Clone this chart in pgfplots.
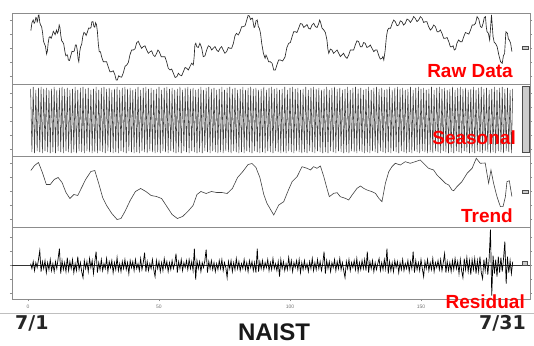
\documentclass[border=0pt]{standalone}
\usepackage{pgfplots}
\pgfplotsset{compat=1.18}
\usepackage{pgfplotstable}
\usepackage{fontspec}
\setmainfont{Liberation Sans}
\newfontfamily\dejavu{DejaVu Sans}
\definecolor{framegray}{RGB}{140,140,140}
\definecolor{labred}{RGB}{255,0,0}
\definecolor{linegray}{RGB}{40,40,40}

\pgfplotstableread[row sep=\\]{y\\
2\\-3\\4\\-5\\3\\-2\\6\\15\\-6\\4\\-3\\5\\-7\\3\\-4\\6\\-5\\2\\-6\\4\\
-3\\7\\17\\-8\\5\\-4\\3\\-6\\8\\-5\\4\\-3\\6\\-7\\2\\-5\\9\\-4\\3\\-6\\
-12\\5\\-3\\4\\-6\\7\\-2\\5\\-8\\4\\14\\-7\\3\\-4\\6\\-5\\2\\-3\\7\\-6\\
4\\-2\\5\\-7\\3\\-4\\8\\-5\\2\\-6\\4\\-3\\6\\-4\\3\\-8\\5\\-2\\4\\-5\\
6\\-3\\2\\-5\\7\\-4\\3\\13\\-6\\4\\-5\\2\\-3\\6\\-4\\-11\\5\\-3\\4\\-6\\
3\\-5\\7\\-2\\4\\-6\\3\\-4\\5\\-3\\2\\12\\-7\\4\\-3\\6\\-5\\3\\-2\\5\\
-4\\6\\-3\\4\\-5\\17\\-14\\5\\-3\\4\\-6\\3\\-2\\5\\16\\-7\\4\\-3\\5\\-4\\
3\\-6\\2\\-4\\5\\-3\\6\\-5\\3\\-2\\-12\\4\\-3\\5\\-6\\3\\-4\\7\\-3\\4\\
-5\\2\\-3\\6\\-4\\3\\-6\\5\\-2\\4\\-5\\3\\-7\\17\\-6\\4\\-3\\5\\-4\\3\\
-2\\6\\-5\\3\\-4\\7\\-3\\2\\-5\\4\\-11\\6\\-3\\4\\-5\\2\\-4\\8\\-3\\5\\
-6\\3\\-2\\5\\-4\\6\\-7\\3\\-4\\5\\-3\\2\\-6\\4\\-3\\7\\-5\\3\\-4\\6\\
-3\\4\\-5\\2\\14\\-8\\5\\-3\\4\\-6\\3\\-2\\6\\-5\\4\\-3\\7\\-4\\3\\-5\\
-12\\4\\-3\\6\\-5\\3\\-2\\5\\-4\\7\\-6\\3\\-4\\5\\-3\\6\\-5\\14\\-7\\4\\
-3\\5\\-6\\3\\-4\\2\\7\\-5\\3\\-4\\6\\-3\\17\\-8\\4\\-5\\3\\-6\\5\\-2\\
4\\-7\\3\\-4\\6\\-5\\2\\-3\\5\\-6\\4\\-3\\14\\-7\\5\\-4\\3\\-5\\6\\-3\\
-11\\4\\-3\\6\\-5\\3\\-4\\7\\-6\\3\\-2\\5\\-4\\6\\-5\\3\\12\\-7\\4\\-5\\
3\\-6\\5\\-4\\7\\-3\\4\\-8\\6\\-5\\-12\\7\\-4\\8\\-6\\5\\-9\\6\\-4\\7\\
-8\\5\\-6\\9\\-7\\-13\\6\\-5\\8\\-9\\7\\36\\-30\\10\\-8\\6\\-11\\9\\-7\\8\\
-6\\7\\24\\-18\\9\\-7\\5\\-8\\4\\
}\resid

\pgfplotstableread[row sep=\\]{y\\
67\\4\\69\\3\\66\\5\\68\\4\\69\\3\\67\\5\\68\\4\\66\\3\\
67\\4\\69\\3\\66\\5\\68\\4\\69\\3\\67\\5\\68\\4\\66\\3\\
67\\4\\69\\3\\66\\5\\68\\4\\69\\3\\67\\5\\68\\4\\66\\3\\
67\\4\\69\\3\\66\\5\\68\\4\\69\\3\\67\\5\\68\\4\\66\\3\\
67\\4\\69\\3\\66\\5\\68\\4\\69\\3\\67\\5\\68\\4\\66\\3\\
67\\4\\69\\3\\66\\5\\68\\4\\69\\3\\67\\5\\68\\4\\66\\3\\
67\\4\\69\\3\\66\\5\\68\\4\\69\\3\\67\\5\\68\\4\\66\\3\\
67\\4\\69\\3\\66\\5\\68\\4\\69\\3\\67\\5\\68\\4\\66\\3\\
67\\4\\69\\3\\66\\5\\68\\4\\69\\3\\67\\5\\68\\4\\66\\3\\
67\\4\\69\\3\\66\\5\\68\\4\\69\\3\\67\\5\\68\\4\\66\\3\\
67\\4\\69\\3\\66\\5\\68\\4\\69\\3\\67\\5\\68\\4\\66\\3\\
67\\4\\69\\3\\66\\5\\68\\4\\69\\3\\67\\5\\68\\4\\66\\3\\
67\\4\\69\\3\\66\\5\\68\\4\\69\\3\\67\\5\\68\\4\\66\\3\\
67\\4\\69\\3\\66\\5\\68\\4\\69\\3\\67\\5\\68\\4\\66\\3\\
67\\4\\69\\3\\66\\5\\68\\4\\69\\3\\67\\5\\68\\4\\66\\3\\
67\\4\\69\\3\\66\\5\\68\\4\\69\\3\\67\\5\\68\\4\\66\\3\\
67\\4\\69\\3\\66\\5\\68\\4\\69\\3\\67\\5\\68\\4\\66\\3\\
67\\4\\69\\3\\66\\5\\68\\4\\69\\3\\67\\5\\68\\4\\66\\3\\
67\\4\\69\\3\\66\\5\\68\\4\\69\\3\\67\\5\\68\\4\\66\\3\\
67\\4\\69\\3\\66\\5\\68\\4\\69\\3\\67\\5\\68\\4\\66\\3\\
67\\4\\69\\3\\66\\5\\68\\4\\69\\3\\67\\5\\68\\4\\66\\3\\
67\\4\\69\\3\\66\\5\\68\\4\\69\\3\\67\\5\\68\\4\\66\\3\\
67\\4\\69\\3\\66\\5\\68\\4\\69\\3\\67\\5\\68\\4\\66\\3\\
67\\
}\seas

\pgfplotsset{stlpanel/.style={
  anchor=south west, width=518pt, height=71.5pt, scale only axis,
  xmin=-6.1, xmax=191.6,
  axis line style={framegray, line width=0.6pt},
  tick style={framegray, line width=0.4pt},
  major tick length=2pt, tick align=outside,
  xtick=\empty, yticklabels={},
}}

\begin{document}
\begin{tikzpicture}
\useasboundingbox (0,0) rectangle (534pt,345pt);

% Raw data
\begin{axis}[stlpanel, at={(12pt,260.5pt)}, ymin=0, ymax=71.5,
  ytick={8.5,22.5,36.5,50.5,64.5}]
\addplot[linegray, line width=0.65pt] coordinates {
(1.1,53.8) (1.5,61.6) (2.0,64.5) (2.35,61.2) (2.7,62.8) (3.0,67) (3.3,66.2) (3.5,62.5) (3.7,63.8) (3.95,69.2)
(4.2,69.5) (4.5,62.0) (4.8,59.5) (5.2,57.8) (5.6,51.2) (5.9,43.7) (6.2,41.2) (6.65,38.4) (7.1,30.5) (7.4,33.4)
(7.7,41.2) (8.05,47) (8.4,47.8) (8.85,46.2) (9.3,49.5) (9.65,53.2) (10.0,51.8) (10.35,49.8) (10.7,52.8) (10.95,54.5)
(11.2,51.2) (11.55,52.9) (11.9,59.5) (12.2,57) (12.5,49.5) (12.85,43.7) (13.2,42.8) (13.65,40.3) (14.1,32.8) (14.45,28.7)
(14.8,29.5) (15.1,29.5) (15.4,24.5) (15.85,24) (16.3,28.5) (16.8,33.2) (17.3,32.8) (17.7,33.7) (18.1,39.5) (18.45,39.5)
(18.8,34.5) (19.1,26.2) (19.4,22.8) (19.75,32.8) (20.1,37.8) (20.5,40.3) (20.9,47.8) (21.35,52) (21.8,51.2) (22.2,49)
(22.6,51.8) (23.15,56.5) (23.7,56.2) (24.05,57) (24.4,62.8) (24.8,62.8) (25.2,57.8) (25.5,57.3) (25.8,61.8) (26.15,59.8)
(26.5,52.8) (26.85,40.3) (27.2,32.8) (27.65,32.8) (28.1,27.8) (28.75,22.8) (29.4,22.8) (30.0,22.8) (30.6,17.8) (31.25,12.8)
(31.9,12.8) (32.55,13.7) (33.2,9.5) (33.65,4.5) (34.1,4.5) (34.6,8.7) (35.1,7.8) (35.75,7.3) (36.4,11.8) (37.05,18.2)
(37.7,19.5) (38.3,22) (38.9,29.5) (39.55,34.5) (40.2,34.5) (40.85,35.7) (41.5,41.8) (42.1,43.2) (42.7,39.5) (43.35,36.2)
(44.0,37.8) (44.65,38.7) (45.3,34.5) (45.95,31.2) (46.6,32.8) (47.2,33.7) (47.8,29.5) (48.45,27.9) (49.1,31.2) (49.6,34.5)
(50.1,32.8) (50.85,27.8) (51.6,27.8) (52.25,27.8) (52.9,22.8) (53.55,16.2) (54.2,14.5) (54.85,15.4) (55.5,11.2) (56.15,7)
(56.8,7.8) (57.4,11.2) (58.0,9.5) (58.65,8.7) (59.3,12.8) (59.95,17) (60.6,16.2) (61.2,14.5) (61.8,17.8) (62.45,21.2)
(63.1,19.5) (63.4,27) (63.7,39.5) (64.05,41.2) (64.4,37.8) (65.0,37) (65.6,41.2) (66.25,37) (66.9,27.8) (67.55,28.7)
(68.2,34.5) (68.85,38.7) (69.5,37.8) (70.1,34.5) (70.7,36.2) (71.35,37.9) (72.0,34.5) (72.65,32.9) (73.3,36.2) (73.9,37.9)
(74.5,34.5) (75.15,31.2) (75.8,32.8) (76.45,37) (77.1,36.2) (77.75,36.2) (78.4,41.2) (79.0,48.7) (79.6,51.2) (80.25,49.5)
(80.9,52.8) (81.55,57.8) (82.2,57.8) (82.85,58.7) (83.5,64.5) (84.0,69) (84.5,68.5) (84.95,64.9) (85.4,66.2) (85.7,66.2)
(86.0,61.2) (86.3,57) (86.6,57.8) (87.05,63.7) (87.5,64.5) (87.9,57.9) (88.3,56.2) (88.75,51.2) (89.2,41.2) (89.85,31.2)
(90.5,26.2) (90.85,29.4) (91.2,27.5) (91.85,22.7) (92.5,22.8) (93.15,21.2) (93.8,14.5) (94.4,14.5) (95.0,19.5) (95.65,24.5)
(96.3,24.5) (97.2,23.5) (98.1,27.5) (98.8,36.9) (99.5,41.2) (100.15,42) (100.8,47.8) (101.4,52.8) (102.0,52.8) (102.65,52)
(103.3,56.2) (103.95,60.9) (104.6,60.5) (105.25,57) (105.9,58.5) (106.5,59.9) (107.1,56.2) (107.75,55.4) (108.4,59.5) (109.05,61.2)
(109.7,57.8) (110.35,57) (111.0,61.2) (111.3,64.5) (111.6,62.8) (112.25,56.2) (112.9,54.5) (113.5,52) (114.1,44.5) (114.45,35.4)
(114.8,31.2) (115.4,35.4) (116.0,34.5) (116.65,31.2) (117.3,32.8) (117.95,34.5) (118.6,31.2) (119.2,27.9) (119.8,29.5) (120.45,31.2)
(121.1,27.8) (121.75,26.2) (122.4,29.5) (123.05,34.5) (123.7,34.5) (124.3,34.5) (124.9,39.5) (125.55,43.7) (126.2,42.8) (126.85,37.8)
(127.5,37.8) (128.1,42) (128.7,41.2) (129.35,37) (130.0,37.8) (130.65,39.5) (131.3,36.2) (131.95,32.9) (132.6,34.5) (133.2,34.5)
(133.8,29.5) (134.45,25.4) (135.1,26.2) (135.45,27.9) (135.8,24.5) (136.3,33.7) (136.8,47.8) (137.25,54.5) (137.7,56.2) (138.35,56.2)
(139.0,61.2) (139.6,64.5) (140.2,62.8) (140.85,58.7) (141.5,59.5) (142.1,63.7) (142.7,62.8) (143.35,59.5) (144.0,61.2) (144.65,65.4)
(145.3,64.5) (145.95,62) (146.6,64.5) (147.2,67.9) (147.8,66.2) (148.45,62.9) (149.1,64.5) (149.75,67.9) (150.4,66.2) (151.0,62)
(151.6,62.8) (152.25,62.8) (152.9,57.8) (153.55,54.5) (154.2,56.2) (154.85,59.5) (155.5,57.8) (156.15,52.8) (156.8,52.8) (157.4,54.5)
(158.0,51.2) (158.65,46.2) (159.3,46.2) (159.95,47) (160.6,42.8) (161.2,37.8) (161.8,37.8) (162.25,38.7) (162.7,34.5) (163.2,35.4)
(163.7,41.2) (164.35,44.5) (165.0,42.8) (165.65,42.8) (166.3,47.8) (166.95,52) (167.6,51.2) (168.25,50.4) (168.9,54.5) (169.55,59.5)
(170.2,59.5) (170.8,61.2) (171.4,67.8) (172.05,65.3) (172.7,57.8) (173.2,57) (173.7,61.2) (174.15,67) (174.6,67.8) (174.9,57.8)
(175.2,52.8) (175.7,51.2) (176.2,44.5) (176.9,69.5) (177.5,47.8) (177.95,42) (178.4,41.2) (179.05,37.9) (179.7,29.5) (180.35,22.9)
(181.0,21.2) (181.45,28.7) (181.9,31.2) (182.4,52.8) (183.0,51.2) (183.35,45.4) (183.7,44.5) (184.2,41.2) (184.7,32.8)
};
\draw[draw=black!70, fill=black!20, line width=0.4pt] (axis cs:188.8,35.5) rectangle (axis cs:191.0,37.9);
\end{axis}

% Seasonal
\begin{axis}[stlpanel, at={(12pt,189pt)}, ymin=0, ymax=71.5,
  ytick={7,21,35,49,63}]
\addplot[black!75, line width=0.55pt] table[x expr=1+0.5*\coordindex, y index=0] {\seas};
\draw[draw=black!70, fill=black!20, line width=0.4pt] (axis cs:188.8,3.3) rectangle (axis cs:191.1,69.3);
\end{axis}

% Trend
\begin{axis}[stlpanel, at={(12pt,117.5pt)}, ymin=0, ymax=71.5,
  ytick={8,22,36,50,64}]
\addplot[black!75, line width=0.6pt] coordinates {
(1.1,57) (2.5,62) (4,65) (5.5,55) (7,43) (8.5,43) (10,48) (11.5,50) (13,45) (14.5,35)
(16,29) (17.5,33) (19,32) (20.5,40) (22,48) (24,56) (25.5,57) (27,44) (28.5,30) (30,22)
(32,14) (34,8) (35.5,9) (37,16) (39,27) (41,36) (43,39) (45,36) (47,32) (49,31)
(51,29) (53,21) (55,13) (57,9) (59,11) (61,16) (63,22) (64.5,33) (66,36) (68,34)
(70,36) (72,35) (74,35) (76,34) (78,39) (80,50) (82,56) (84,63) (85.5,64) (87,60)
(88.5,50) (90,33) (91.2,24.2) (93.8,12.5) (95.7,22.5) (97.6,25.8) (99.4,37.5) (100.8,45.8) (102.7,50.8) (104.6,60.8)
(106.5,59.2) (107.8,57.5) (109.0,60.8) (110.3,59.2) (111.6,61.5) (112.9,50.8) (114.1,39.2) (115.0,30.8) (116.7,34.2) (118.0,34.8)
(119.2,30.8) (121.1,29.2) (122.4,27.5) (123.7,32.5) (125.6,39.2) (126.9,41.5) (128.1,39.2) (129.4,37.5) (131.3,35.8) (132.6,34.2)
(133.9,29.2) (135.1,25.8) (136.4,44.2) (137.7,55.8) (138.9,60.8) (140.2,64.2) (142.1,62.5) (144.0,65.8) (145.9,64.2) (147.8,65.8)
(149.7,67.5) (151.6,62.5) (152.9,59.2) (154.8,57.5) (156.1,52.5) (157.4,49.2) (159.3,44.2) (160.6,42.5) (161.8,37.5) (162.5,36.8)
(163.7,40.8) (165.6,45.8) (167.6,54.2) (169.5,59.2) (171.1,69.2) (172.6,64.2) (174.5,64.5) (175.8,44.2) (176.7,57.5) (177.7,44.2)
(179.0,30.8) (180.3,20.8) (181.3,20.8) (182.2,30.8) (182.8,45.8) (183.7,46.8) (184.7,30.8)
};
\draw[draw=black!70, fill=black!20, line width=0.4pt] (axis cs:188.8,34.2) rectangle (axis cs:191.0,37.2);
\end{axis}

% Residual
\begin{axis}[stlpanel, at={(12pt,46pt)}, ymin=-33.4, ymax=38.1,
  ytick={-28,-14,0,14,28},
  xtick={0,50,100,150}, xticklabels={0,50,100,150}, xtick pos=bottom,
  xticklabel style={font=\fontsize{5}{6}\selectfont, text=black!55}]
\addplot[black!80, line width=0.6pt] coordinates {(-6.1,0) (191.6,0)};
\addplot[black, line width=0.7pt] table[x expr=1+0.5*\coordindex, y index=0] {\resid};
\draw[draw=black!70, fill=black!20, line width=0.4pt] (axis cs:188.8,0.5) rectangle (axis cs:190.6,4);
\end{axis}

% labels
\node[anchor=base east, inner sep=0, text=labred, font=\bfseries\fontsize{19}{22}\selectfont] at (513pt,267pt) {Raw Data};
\node[anchor=base east, inner sep=0, text=labred, font=\bfseries\fontsize{19}{22}\selectfont] at (516pt,200pt) {Seasonal};
\node[anchor=base east, inner sep=0, text=labred, font=\bfseries\fontsize{19}{22}\selectfont] at (513pt,122pt) {Trend};
\node[anchor=base east, inner sep=0, text=labred, font=\bfseries\fontsize{19}{22}\selectfont] at (525pt,37pt) {Residual};

\draw[black!25, line width=0.8pt] (0,32pt) -- (534pt,32pt);

\node[anchor=base west, inner sep=0, font=\dejavu\bfseries\fontsize{19}{22}\selectfont, text=black!85] at (15pt,16pt) {7/1};
\node[anchor=base east, inner sep=0, font=\dejavu\bfseries\fontsize{19}{22}\selectfont, text=black!85] at (526pt,16pt) {7/31};
\node[anchor=base, inner sep=0, font=\bfseries\fontsize{24}{28}\selectfont, text=black!90] at (274pt,5pt) {NAIST};
\end{tikzpicture}
\end{document}
